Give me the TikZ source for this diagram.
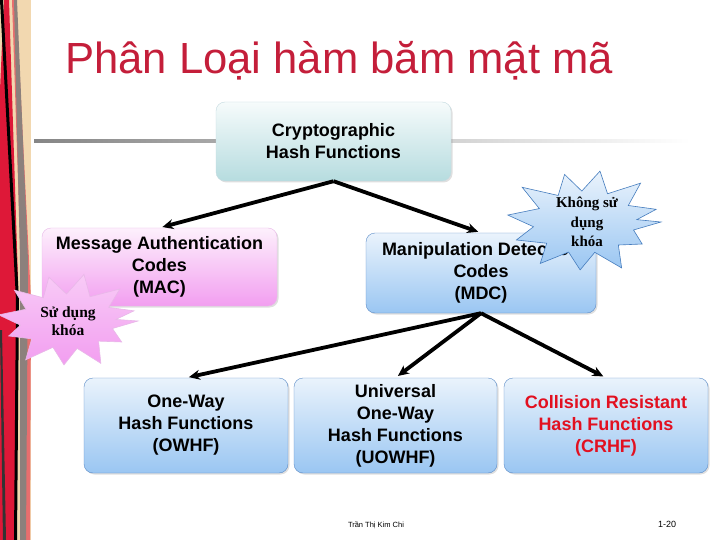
\documentclass[tikz,border=0pt]{standalone}
\usepackage{fontspec}
\setmainfont{Liberation Sans}
\newfontfamily\burstfont{Liberation Serif}
\usetikzlibrary{shadows,arrows.meta}
\definecolor{titlered}{RGB}{196,30,58}
\definecolor{tealtop}{RGB}{246,251,251}
\definecolor{tealbot}{RGB}{182,220,223}
\definecolor{tealedge}{RGB}{196,218,224}
\definecolor{pinktop}{RGB}{253,240,252}
\definecolor{pinkbot}{RGB}{242,158,240}
\definecolor{pinkedge}{RGB}{232,184,232}
\definecolor{bluetop}{RGB}{234,243,252}
\definecolor{bluebot}{RGB}{154,198,242}
\definecolor{blueedge}{RGB}{92,140,200}
\definecolor{burstedge}{RGB}{70,125,190}
\definecolor{beige}{RGB}{242,216,176}
\definecolor{stripred}{RGB}{222,24,56}
\definecolor{stripgray}{RGB}{140,128,124}
\definecolor{stripsalmon}{RGB}{232,110,110}
\definecolor{crhfred}{RGB}{226,16,32}
\tikzset{
  box/.style={rounded corners=9pt, align=center, inner sep=0pt,
    font=\fontsize{18}{22}\selectfont\bfseries,
    drop shadow={shadow xshift=1.5pt, shadow yshift=-1.5pt, opacity=0.25}},
  tealbox/.style={box, draw=tealedge, top color=tealtop, bottom color=tealbot},
  pinkbox/.style={box, draw=pinkedge, top color=pinktop, bottom color=pinkbot},
  bluebox/.style={box, draw=blueedge, top color=bluetop, bottom color=bluebot},
  conn/.style={line width=3.8pt, -{Stealth[length=11pt,width=10pt]}, shorten >=3pt},
  bursttext/.style={inner sep=0pt, align=center,
    font=\burstfont\bfseries\fontsize{15}{19.5}\selectfont},
}
\begin{document}
\begin{tikzpicture}[x=1pt,y=-1pt]
\useasboundingbox (0,0) rectangle (720,540);
\fill[white] (0,0) rectangle (720,540);
% left decorative strip
\fill[beige] (0,0) rectangle (31,540);
\fill[stripsalmon] (12,0) -- (16,0) -- (31,300) -- (30,540) -- (25,540) -- (22,300) -- cycle;
\fill[stripgray] (14,0) -- (17,0) -- (28,260) -- (26,540) -- (20,540) -- (20,260) -- cycle;
\fill[stripred] (4,0) -- (9,0) -- (18,280) -- (16,540) -- (0,540) -- (0,90) -- cycle;
\fill[black] (0,0) -- (3,0) -- (19,300) -- (17,540) -- (14,540) -- (16,300) -- cycle;
\fill[black!80] (0,330) -- (2,330) -- (6,540) -- (3,540) -- cycle;
% gray rule
\shade[left color=gray!95, right color=white] (34,139.5) rectangle (690,142.5);
% title
\node[anchor=base west, inner sep=0pt, text=titlered, font=\fontsize{43.6}{44}\selectfont]
  (title) at (65,74) {Phân Loại hàm băm mật mã};
% boxes
\node[tealbox, minimum width=235pt, minimum height=79pt] (top) at (333.5,141.5)
  {Cryptographic\\Hash Functions};
\node[pinkbox, minimum width=235pt, minimum height=78pt] (mac) at (159.5,267)
  {Message Authentication\\Codes\\(MAC)};
\node[bluebox, minimum width=230pt, minimum height=80pt] (mdc) at (481,273)
  {Manipulation Detection\\Codes\\(MDC)};
\node[bluebox, minimum width=204pt, minimum height=95pt] (owhf) at (186,425.5)
  {One-Way\\Hash Functions\\(OWHF)};
\node[bluebox, minimum width=203pt, minimum height=95pt] (uowhf) at (395.5,425.5)
  {Universal\\One-Way\\Hash Functions\\(UOWHF)};
\node[bluebox, minimum width=204pt, minimum height=95pt, text=crhfred] (crhf) at (606,425.5)
  {Collision Resistant\\Hash Functions\\(CRHF)};
% connectors
\draw[conn] (top.south) -- (mac.north);
\draw[conn] (top.south) -- (mdc.north);
\draw[conn] (mdc.south) -- (owhf.north);
\draw[conn] (mdc.south) -- (uowhf.north);
\draw[conn] (mdc.south) -- (crhf.north);
% callout: no key
\begin{scope}[shift={(585,222)}]
\draw[burstedge, line width=0.6pt, top color=bluetop, bottom color=bluebot]
  (0:76 and 50) -- (14:50 and 33) -- (30:66 and 44) -- (46:48 and 32) -- (62:78 and 52)
  -- (78:47 and 31) -- (94:70 and 48) -- (110:48 and 32) -- (124:80 and 50)
  -- (140:50 and 33) -- (158:74 and 48) -- (172:52 and 34) -- (188:78 and 50)
  -- (204:50 and 33) -- (220:82 and 54) -- (236:48 and 32) -- (252:66 and 50)
  -- (266:46 and 31) -- (282:72 and 52) -- (298:48 and 32) -- (314:80 and 54)
  -- (330:50 and 33) -- (344:74 and 46) -- (356:52 and 34) -- cycle;
\end{scope}
\node[bursttext] (nokey) at (587,222) {Không sử\\dụng\\khóa};
% callout: with key
\begin{scope}[shift={(68,321)}]
\draw[pinkedge, line width=0.6pt, top color=pinktop!55!pinkbot, bottom color=pinkbot]
  (0:70 and 44) -- (15:46 and 29) -- (30:62 and 42) -- (46:44 and 28) -- (62:70 and 48)
  -- (78:44 and 28) -- (94:58 and 44) -- (110:44 and 28) -- (126:72 and 48)
  -- (142:46 and 29) -- (158:64 and 40) -- (172:48 and 30) -- (188:70 and 44)
  -- (204:46 and 29) -- (220:70 and 48) -- (236:44 and 28) -- (252:62 and 46)
  -- (268:42 and 27) -- (284:66 and 48) -- (300:44 and 28) -- (316:72 and 46)
  -- (332:46 and 29) -- (346:68 and 42) -- (357:48 and 30) -- cycle;
\end{scope}
\node[bursttext, font=\burstfont\bfseries\fontsize{15.5}{18}\selectfont] (key) at (68,321)
  {Sử dụng\\khóa};
% footer
\node[inner sep=0pt, font=\fontsize{7.5}{9}\selectfont] (author) at (376,525) {Trần Thị Kim Chi};
\node[inner sep=0pt, font=\fontsize{9}{10}\selectfont] (page) at (667,524) {1-20};
\end{tikzpicture}
\end{document}
